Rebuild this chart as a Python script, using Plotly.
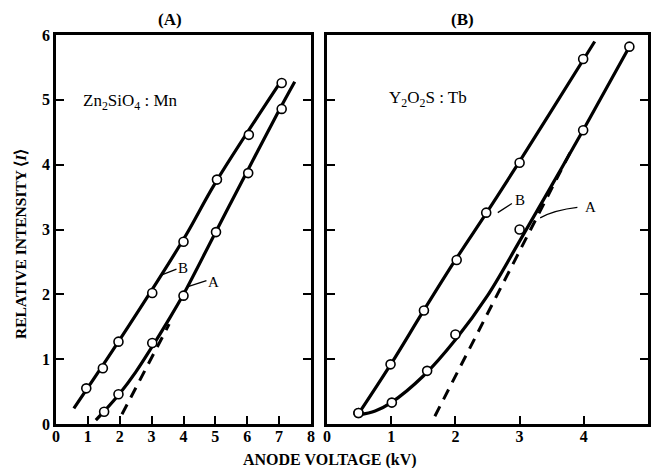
import plotly.graph_objects as go

# ---------------- measured points ----------------
# Panel (A): Zn2SiO4 : Mn
zn_b_v = [0.95, 1.47, 1.96, 3.02, 4.0, 5.05, 6.05, 7.08]
zn_b_i = [0.55, 0.86, 1.27, 2.02, 2.81, 3.77, 4.46, 5.26]
zn_a_v = [1.51, 1.96, 3.02, 4.0, 5.02, 6.03, 7.08]
zn_a_i = [0.19, 0.46, 1.25, 1.98, 2.96, 3.87, 4.86]

# Panel (B): Y2O2S : Tb
yo_b_v = [0.49, 0.99, 1.51, 2.02, 2.48, 3.0, 3.99]
yo_b_i = [0.17, 0.92, 1.75, 2.53, 3.26, 4.03, 5.63]
yo_a_v = [0.49, 1.01, 1.56, 2.0, 3.0, 3.99, 4.71]
yo_a_i = [0.17, 0.33, 0.82, 1.38, 3.0, 4.53, 5.82]

# ---------------- drawn curves ----------------
zn_fit_b_v = [0.56, 2.0, 4.0, 5.0, 7.05]
zn_fit_b_i = [0.24, 1.3, 2.85, 3.72, 5.28]
zn_fit_a_v = [1.25, 1.5, 2.0, 2.5, 3.0, 3.5, 4.0, 5.0, 6.0, 7.0, 7.49]
zn_fit_a_i = [0.06, 0.19, 0.47, 0.8, 1.18, 1.58, 2.0, 2.95, 3.9, 4.84, 5.28]
zn_lin_a_v = [2.07, 3.55]
zn_lin_a_i = [0.15, 1.54]

yo_fit_b_v = [0.5, 1.0, 1.5, 2.0, 2.5, 3.0, 4.0, 4.17]
yo_fit_b_i = [0.17, 0.93, 1.74, 2.53, 3.28, 4.05, 5.63, 5.9]
yo_fit_a_v = [0.5, 0.75, 1.0, 1.5, 2.0, 2.5, 3.0, 3.5, 4.0, 4.71]
yo_fit_a_i = [0.14, 0.2, 0.33, 0.74, 1.3, 1.98, 2.82, 3.68, 4.55, 5.82]
yo_lin_a_v = [1.68, 3.83]
yo_lin_a_i = [0.12, 4.27]

# ---------------- axis ticks ----------------
zn_xticks = [0, 1, 2, 3, 4, 5, 6, 7, 8]
yo_xticks = [0, 1, 2, 3, 4, 5]
i_ticks = [0, 1, 2, 3, 4, 5, 6]

SERIF = "Liberation Serif"
W, H = 651, 468

fig = go.Figure()

solid = dict(color="black", width=3.2, shape="spline", smoothing=1.0)
dashed = dict(color="black", width=3, dash="11px,8px")
mk = dict(symbol="circle", size=9, color="white",
          line=dict(color="black", width=1.6))


def add_panel(xa, ya, fb, fa, lin, pb, pa):
    fig.add_trace(go.Scatter(x=fb[0], y=fb[1], mode="lines", line=solid,
                             xaxis=xa, yaxis=ya, hoverinfo="skip"))
    fig.add_trace(go.Scatter(x=fa[0], y=fa[1], mode="lines", line=solid,
                             xaxis=xa, yaxis=ya, hoverinfo="skip"))
    fig.add_trace(go.Scatter(x=lin[0], y=lin[1], mode="lines", line=dashed,
                             xaxis=xa, yaxis=ya, hoverinfo="skip"))
    fig.add_trace(go.Scatter(x=pb[0], y=pb[1], mode="markers", marker=mk,
                             xaxis=xa, yaxis=ya))
    fig.add_trace(go.Scatter(x=pa[0], y=pa[1], mode="markers", marker=mk,
                             xaxis=xa, yaxis=ya))


add_panel("x", "y", (zn_fit_b_v, zn_fit_b_i), (zn_fit_a_v, zn_fit_a_i),
          (zn_lin_a_v, zn_lin_a_i), (zn_b_v, zn_b_i), (zn_a_v, zn_a_i))
add_panel("x2", "y2", (yo_fit_b_v, yo_fit_b_i), (yo_fit_a_v, yo_fit_a_i),
          (yo_lin_a_v, yo_lin_a_i), (yo_b_v, yo_b_i), (yo_a_v, yo_a_i))

tickfont = dict(family=SERIF, size=16, color="black", weight="bold")
y_dom = [44 / H, 433 / H]
common_x = dict(showline=True, linewidth=2.5, linecolor="black", mirror=True,
                ticks="inside", ticklen=8, tickwidth=1.6, tickcolor="black",
                showgrid=False, zeroline=False, tickfont=tickfont,
                ticklabelstandoff=-4)
common_y = dict(showline=True, linewidth=2.5, linecolor="black", mirror="ticks",
                ticks="inside", ticklen=8, tickwidth=1.6, tickcolor="black",
                showgrid=False, zeroline=False, tickfont=tickfont, domain=y_dom,
                range=[0, 6], tickvals=i_ticks)

fig.update_layout(
    width=W, height=H,
    margin=dict(l=0, r=0, t=0, b=0, autoexpand=False),
    paper_bgcolor="white", plot_bgcolor="white",
    showlegend=False,
    xaxis=dict(domain=[56 / W, 311 / W], range=[0, 8], tickvals=zn_xticks,
               anchor="y", **common_x),
    yaxis=dict(anchor="x", **common_y),
    xaxis2=dict(domain=[327 / W, 648 / W], range=[0, 5], tickvals=yo_xticks,
                anchor="y2", **common_x),
    yaxis2=dict(anchor="x2", showticklabels=False, **common_y),
)

txt = dict(family=SERIF, size=16, color="black", weight="bold")
lbl = dict(family=SERIF, size=15, color="black")
center = dict(xanchor="center", yanchor="middle", showarrow=False)
ann = []
# panel titles
ann.append(dict(text="(A)", x=170 / W, y=1 - 20 / H, xref="paper", yref="paper",
                font=dict(family=SERIF, size=17, color="black", weight="bold"), **center))
ann.append(dict(text="(B)", x=462 / W, y=1 - 20 / H, xref="paper", yref="paper",
                font=dict(family=SERIF, size=17, color="black", weight="bold"), **center))
# compound names
ann.append(dict(text="Zn<sub>2</sub>SiO<sub>4</sub> : Mn", x=2.35, y=4.97, xref="x", yref="y",
                font=dict(family=SERIF, size=17, color="black"), **center))
ann.append(dict(text="Y<sub>2</sub>O<sub>2</sub>S : Tb", x=1.57, y=5.01, xref="x2", yref="y2",
                font=dict(family=SERIF, size=17, color="black"), **center))
# curve labels
ann.append(dict(text="B", x=3.97, y=2.41, xref="x", yref="y", font=lbl, **center))
ann.append(dict(text="A", x=4.95, y=2.19, xref="x", yref="y", font=lbl, **center))
ann.append(dict(text="B", x=3.0, y=3.45, xref="x2", yref="y2", font=lbl, **center))
ann.append(dict(text="A", x=4.1, y=3.35, xref="x2", yref="y2", font=lbl, **center))
# axis titles
ann.append(dict(text="RELATIVE INTENSITY \u27e8<i>I</i>\u27e9", x=20 / W, y=1 - 244 / H,
                xref="paper", yref="paper", textangle=-90,
                font=dict(family=SERIF, size=15.5, color="black", weight="bold"), **center))
ann.append(dict(text="ANODE VOLTAGE (kV)", x=330 / W, y=1 - 460 / H,
                xref="paper", yref="paper", font=txt, **center))
fig.update_layout(annotations=ann)

# leader lines from curves to their labels
lead = dict(color="black", width=1.3)
shapes = [
    dict(type="line", xref="x", yref="y", x0=3.26, y0=2.29, x1=3.78, y1=2.39, line=lead),
    dict(type="line", xref="x", yref="y", x0=4.14, y0=2.12, x1=4.72, y1=2.21, line=lead),
    dict(type="line", xref="x2", yref="y2", x0=2.66, y0=3.26, x1=2.88, y1=3.4, line=lead),
    dict(type="path", xref="x2", yref="y2",
         path="M 3.32,3.18 Q 3.55,3.3 3.9,3.34", line=lead),
]
fig.update_layout(shapes=shapes)

fig.write_html("out.html")
